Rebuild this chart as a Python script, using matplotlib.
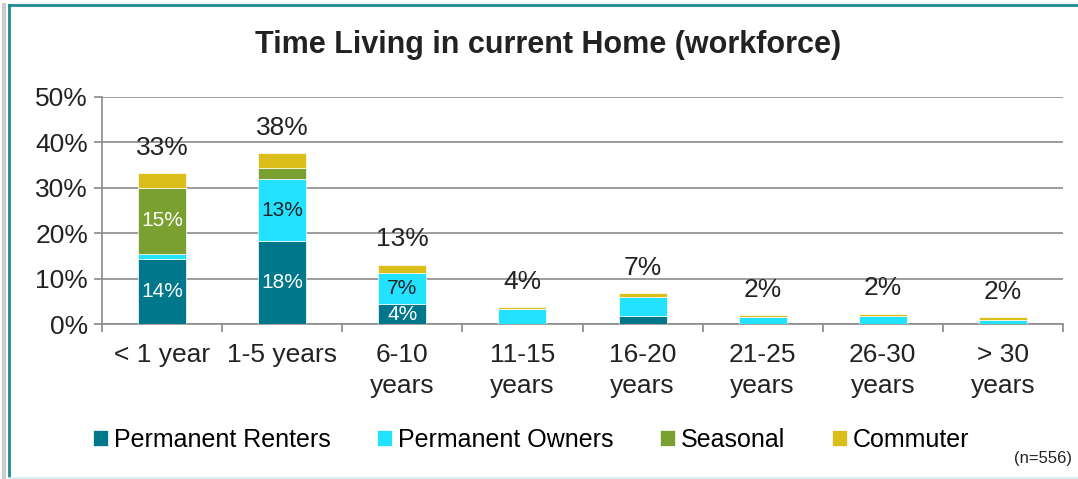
import matplotlib.pyplot as plt
import numpy as np
from matplotlib.lines import Line2D

plt.rcParams['font.family'] = ['Liberation Sans', 'DejaVu Sans']

categories = ["< 1 year", "1-5 years", "6-10\nyears", "11-15\nyears", "16-20\nyears",
              "21-25\nyears", "26-30\nyears", "> 30\nyears"]
renters = [14.4, 18.3, 4.3, 0.0, 1.8, 0.0, 0.0, 0.0]
owners = [1.0, 13.6, 6.9, 3.2, 4.2, 1.5, 1.7, 0.9]
seasonal = [14.6, 2.4, 0.0, 0.0, 0.0, 0.0, 0.0, 0.0]
commuter = [3.2, 3.3, 1.9, 0.5, 0.8, 0.4, 0.5, 0.6]
totals = ["33%", "38%", "13%", "4%", "7%", "2%", "2%", "2%"]
inner = {  # (series index, bar index): label
    (0, 0): "14%", (2, 0): "15%", (0, 1): "18%", (1, 1): "13%",
    (0, 2): "4%", (1, 2): "7%",
}

series = [renters, owners, seasonal, commuter]
names = ["Permanent Renters", "Permanent Owners", "Seasonal", "Commuter"]
colors = ["#00778A", "#22E2FF", "#79A030", "#DCBE1A"]
text_colors = ["white", "#222222", "white", "#222222"]

fig = plt.figure(figsize=(10.78, 4.79), dpi=100)
ax = fig.add_axes([102 / 1078, 1 - 324 / 479, 961 / 1078, 227 / 479])

x = np.arange(len(categories))
bottom = np.zeros(len(categories))
for i, vals in enumerate(series):
    vals = np.array(vals)
    ax.bar(x, vals, 0.4, bottom=bottom, color=colors[i], label=names[i],
           edgecolor="white", linewidth=0.5, zorder=3)
    for j in range(len(x)):
        if (i, j) in inner:
            ax.text(x[j], bottom[j] + vals[j] / 2, inner[(i, j)], ha="center", va="center",
                    fontsize=15, color=text_colors[i], zorder=4)
    bottom += vals

for j in range(len(x)):
    ax.text(x[j], bottom[j] + 3.0, totals[j], ha="center", va="bottom",
            fontsize=19, color="#222222")

ax.set_xlim(-0.5, len(x) - 0.5)
ax.set_ylim(0, 50)
ax.set_yticks(np.arange(0, 51, 10))
ax.set_yticklabels([f"{v}%" for v in range(0, 51, 10)], fontsize=19, color="#222222")
ax.set_xticks(x)
ax.set_xticklabels(categories, fontsize=19, color="#222222", linespacing=1.35)
ax.set_xticks(np.arange(-0.5, len(x), 1), minor=True)
ax.tick_params(axis="x", which="major", length=0, pad=14)
ax.tick_params(axis="x", which="minor", length=6, color="#888888", width=1.2)
ax.tick_params(axis="y", length=6, color="#888888", width=1.2, pad=4)
ax.grid(axis="y", color="#8c8c8c", linewidth=1.2, zorder=0)
for s in ["top", "right"]:
    ax.spines[s].set_visible(False)
for s in ["left", "bottom"]:
    ax.spines[s].set_color("#8c8c8c")
    ax.spines[s].set_linewidth(1.2)

fig.text(548 / 1078, 1 - 45 / 479, "Time Living in current Home (workforce)",
         ha="center", va="center", fontsize=22, fontweight="bold", color="#222222")

ax.legend(loc="center", bbox_to_anchor=(531 / 1078, 1 - 440 / 479),
          bbox_transform=fig.transFigure, ncol=4, frameon=False, fontsize=18,
          handlelength=0.6, handleheight=0.6, handletextpad=0.25, columnspacing=1.85)
fig.text(1072 / 1078, 1 - 458 / 479, "(n=556)", ha="right", va="center", fontsize=12,
         color="#222222")

# chart frame: teal top/left edges, light bottom edge
fig.add_artist(Line2D([0.004, 0.004], [0.0, 0.99], transform=fig.transFigure,
                      color="#cccccc", linewidth=3))
fig.add_artist(Line2D([0.008, 0.008], [0.0, 0.99], transform=fig.transFigure,
                      color="#1f8a96", linewidth=2))
fig.add_artist(Line2D([0.008, 1.0], [0.99, 0.99], transform=fig.transFigure,
                      color="#1f8a96", linewidth=2))
fig.add_artist(Line2D([0.008, 1.0], [0.003, 0.003], transform=fig.transFigure,
                      color="#d6efef", linewidth=2))

fig.savefig("out.png", dpi=100)
